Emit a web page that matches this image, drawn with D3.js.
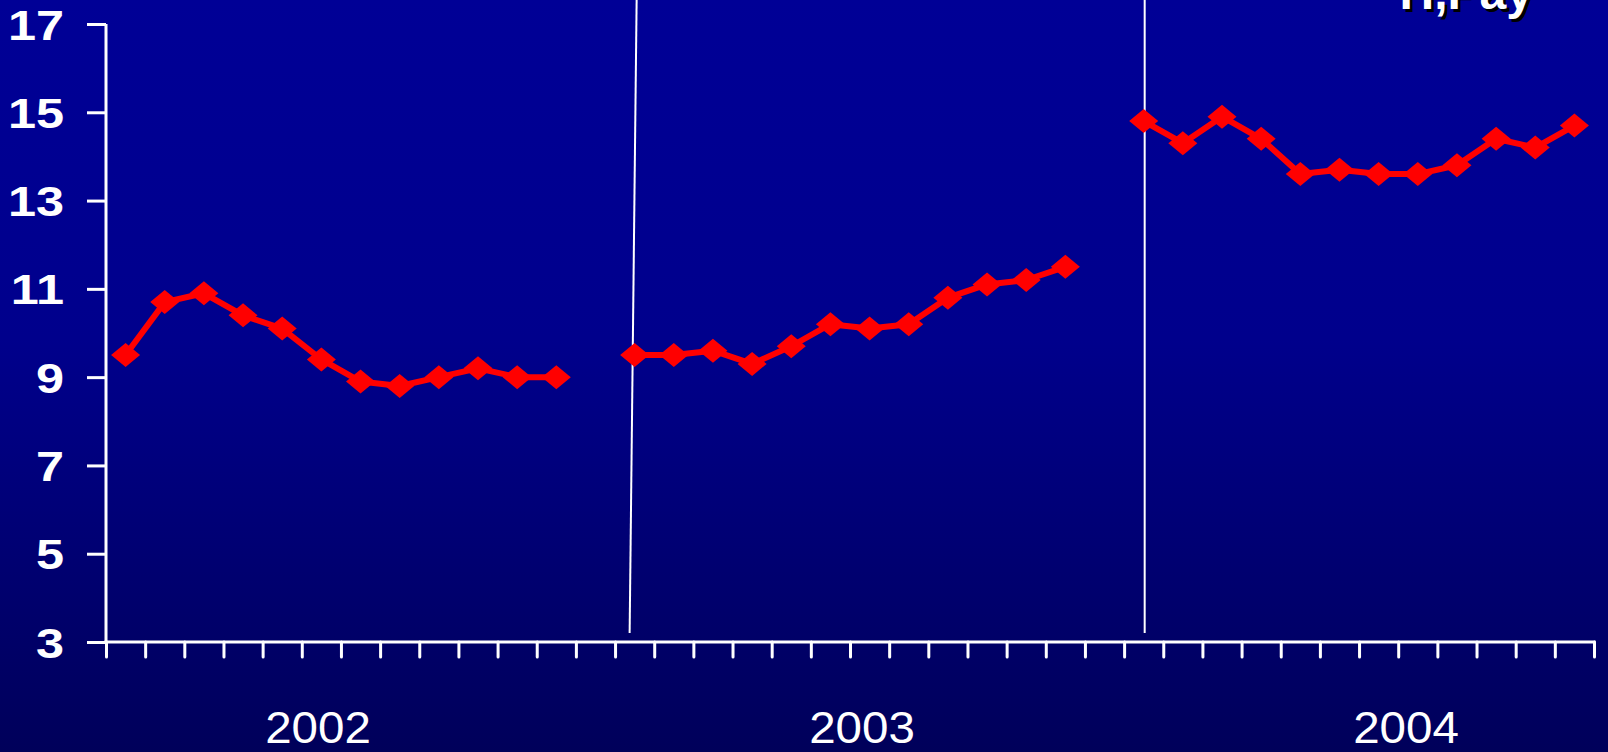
<!DOCTYPE html>
<html><head><meta charset="utf-8">
<script src="https://cdn.jsdelivr.net/npm/d3@7"></script>
<style>html,body{margin:0;padding:0;background:#000080;overflow:hidden}</style>
</head><body>
<script>
const years = ["2002", "2003", "2004"];
const values2002 = [9.5, 10.7, 10.9, 10.4, 10.1, 9.4, 8.9, 8.8, 9.0, 9.2, 9.0, 9.0];
const values2003 = [9.5, 9.5, 9.6, 9.3, 9.7, 10.2, 10.1, 10.2, 10.8, 11.1, 11.2, 11.5];
const values2004 = [14.8, 14.3, 14.9, 14.4, 13.6, 13.7, 13.6, 13.6, 13.8, 14.4, 14.2, 14.7];
const yTicks = [3, 5, 7, 9, 11, 13, 15, 17];
const unitLabel = "H,Pay";

const W = 1608, H = 752;
const svg = d3.select("body").append("svg").attr("width", W).attr("height", H);

const defs = svg.append("defs");
const grad = defs.append("linearGradient").attr("id", "bg").attr("x1", 0).attr("y1", 0).attr("x2", 0).attr("y2", 1);
grad.append("stop").attr("offset", "0%").attr("stop-color", "#000096");
grad.append("stop").attr("offset", "45%").attr("stop-color", "#00008c");
grad.append("stop").attr("offset", "100%").attr("stop-color", "#00005a");
svg.append("rect").attr("width", W).attr("height", H).attr("fill", "url(#bg)");

// slots: 12 months per year, one empty slot between years
const slots = [];
const series = [values2002, values2003, values2004];
series.forEach((vals, yi) => {
  vals.forEach((v, m) => slots.push({key: years[yi] + "-" + m, year: years[yi], m, v}));
  if (yi < series.length - 1) slots.push({key: "gap" + yi, year: null});
});

const x = d3.scaleBand().domain(slots.map(d => d.key)).range([106, 1594]).padding(0);
const y = d3.scaleLinear().domain([3, 17]).range([642, 24]);
const cx = k => x(k) + x.bandwidth() / 2;

// vertical separator lines at first month of 2003 and 2004
const sep1 = cx("2003-0"), sep2 = cx("2004-0");
svg.append("line").attr("x1", sep1 + 2).attr("y1", 0).attr("x2", sep1 - 5).attr("y2", 633)
  .attr("stroke", "#ffffff").attr("stroke-width", 2);
svg.append("line").attr("x1", sep2 + 1).attr("y1", 0).attr("x2", sep2 + 1).attr("y2", 633)
  .attr("stroke", "#ffffff").attr("stroke-width", 2);

// y axis
const yAxis = svg.append("g").attr("transform", "translate(106,0)")
  .call(d3.axisLeft(y).tickValues(yTicks).tickSize(19).tickPadding(24).tickFormat(d3.format("d")));
yAxis.select(".domain").attr("stroke", "#fff").attr("stroke-width", 3).attr("d", `M0,${y(17)}V${y(3)}`);
yAxis.selectAll(".tick line").attr("stroke", "#fff").attr("stroke-width", 3);
yAxis.selectAll(".tick text").attr("fill", "#fff").attr("font-family", "'Liberation Sans', Arial, sans-serif")
  .attr("font-weight", "bold").attr("font-size", 42).attr("dy", "0.36em")
  .attr("transform", "scale(1.2,1)").attr("x", -42 / 1.2);

// x axis with ticks at slot boundaries
const edges = slots.map(d => x(d.key)).concat([x.range()[1]]);
const xAxis = svg.append("g").attr("transform", "translate(0,642)")
  .call(d3.axisBottom(d3.scaleLinear().domain([106, 1594]).range([106, 1594])).tickValues(edges).tickSize(15).tickFormat(""));
xAxis.select(".domain").attr("stroke", "#fff").attr("stroke-width", 3).attr("d", "M104.5,0H1595.5");
xAxis.selectAll(".tick line").attr("stroke", "#fff").attr("stroke-width", 3).attr("stroke-linecap", "round");

// year labels
const yearX = d3.scalePoint().domain(years).range([318, 1406]);
svg.append("g").selectAll("text").data(years).join("text")
  .attr("transform", d => `translate(${yearX(d)},743) scale(1.08,1)`)
  .attr("text-anchor", "middle").attr("fill", "#fff")
  .attr("font-family", "'Liberation Sans', Arial, sans-serif").attr("font-size", 44)
  .text(d => d);

// lines and markers
const line = d3.line().x(d => cx(d.key)).y(d => y(d.v));
years.forEach(yr => {
  const pts = slots.filter(d => d.year === yr);
  svg.append("path").datum(pts).attr("d", line).attr("fill", "none")
    .attr("stroke", "#ff0000").attr("stroke-width", 6).attr("stroke-linejoin", "round");
  svg.append("g").selectAll("path").data(pts).join("path")
    .attr("transform", d => `translate(${cx(d.key)},${y(d.v)})`)
    .attr("d", "M-14.5,0L0,-12L14.5,0L0,12Z").attr("fill", "#ff0000");
});

// unit label (mostly cut off at top, as in the reference)
const ul = svg.append("g").attr("font-family", "'Liberation Sans', Arial, sans-serif")
  .attr("font-weight", "bold").attr("font-size", 48).attr("text-anchor", "end");
ul.append("text").attr("x", 1536).attr("y", 12).attr("fill", "#000").text(unitLabel);
ul.append("text").attr("x", 1533).attr("y", 9).attr("fill", "#fff").text(unitLabel);
</script>
</body></html>
